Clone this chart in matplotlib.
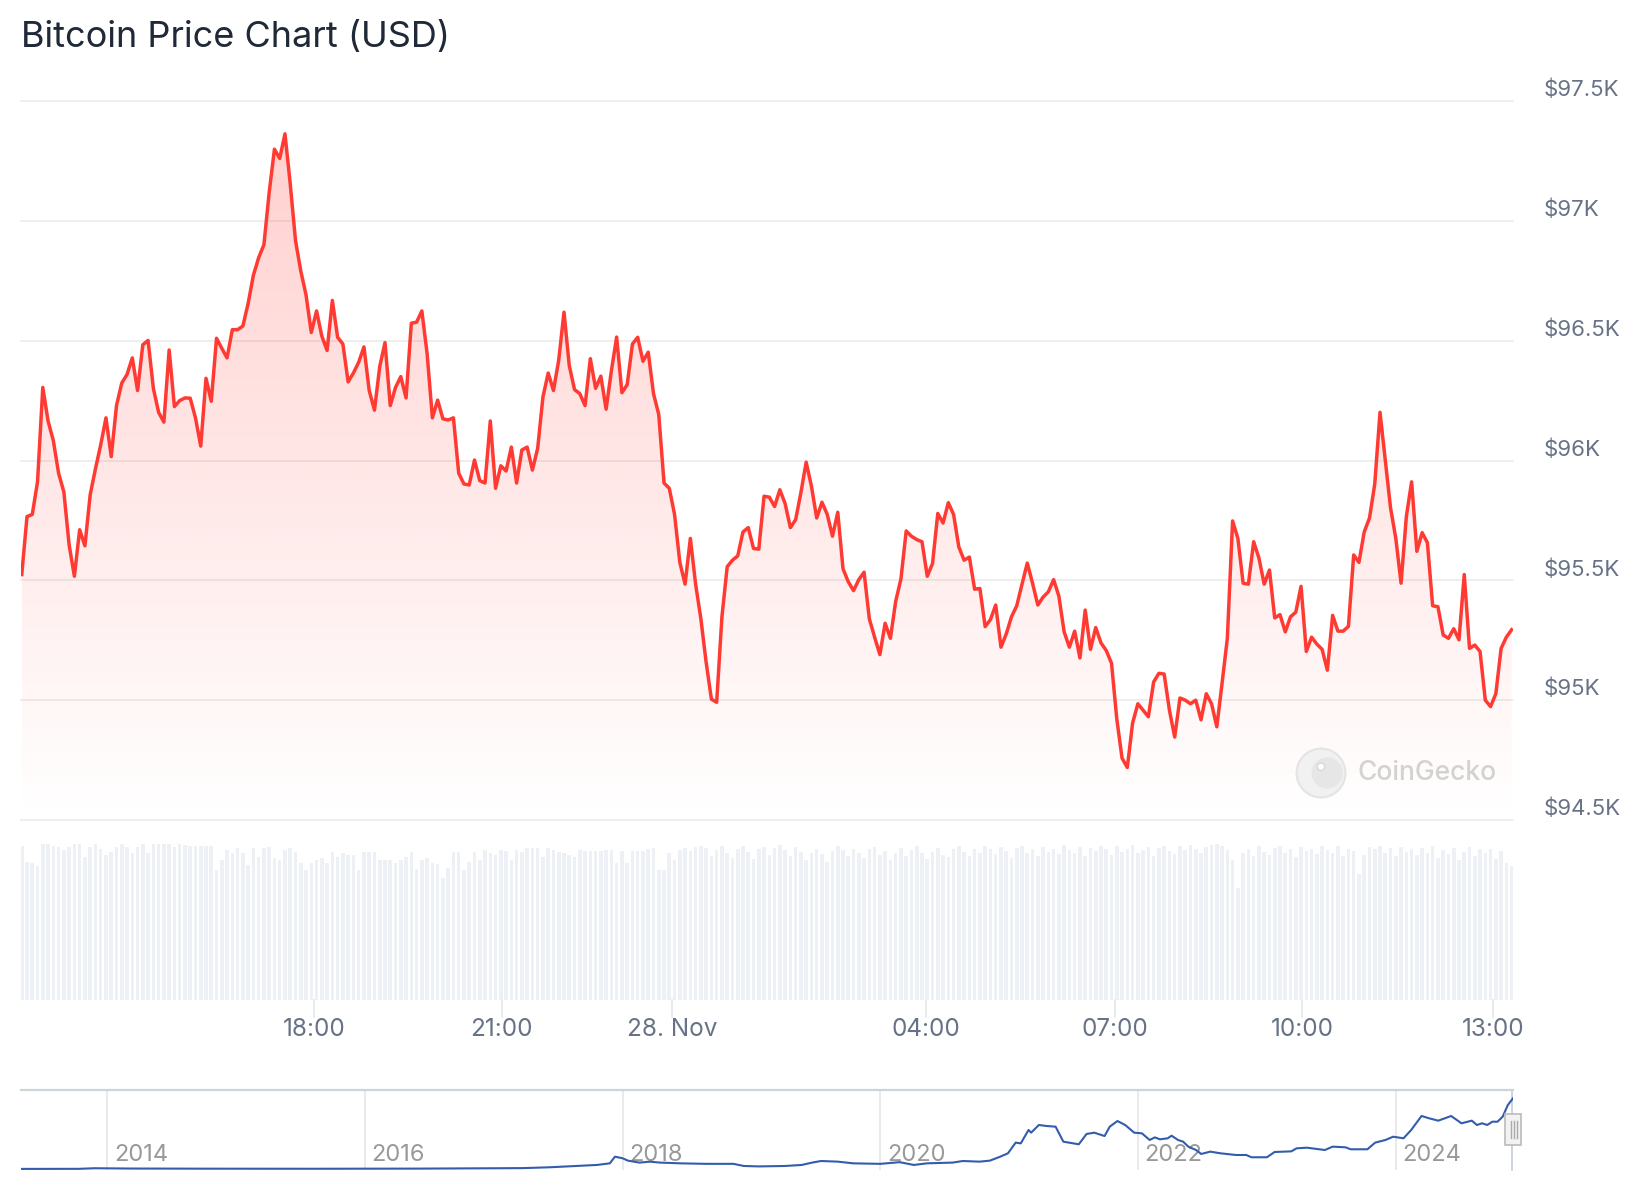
import matplotlib
matplotlib.use("Agg")
import matplotlib.pyplot as plt
import matplotlib.transforms as mtransforms
from matplotlib.patches import Circle, Rectangle
import numpy as np

plt.rcParams['font.family'] = ['Inter', 'DejaVu Sans']

W, H = 1644, 1200

# BTC price every 5 minutes, 27 Nov ~13:20 -> 28 Nov ~13:15 (USD)
prices = [
    95524, 95766, 95775, 95911, 96305, 96165, 96083, 95947, 95869, 95648, 95517, 95711,
    95644, 95857, 95965, 96065, 96178, 96016, 96229, 96323, 96359, 96428, 96292, 96483,
    96501, 96301, 96201, 96160, 96461, 96225, 96250, 96261, 96260, 96178, 96060, 96343,
    96247, 96510, 96468, 96428, 96546, 96546, 96561, 96655, 96773, 96846, 96900,
    97118, 97299, 97260, 97363, 97154, 96918, 96791, 96691, 96534, 96624, 96519, 96459,
    96668, 96514, 96486, 96328, 96365, 96410, 96474, 96292, 96210, 96392, 96492, 96229,
    96305, 96350, 96261, 96573, 96577, 96624, 96446, 96178, 96252, 96174, 96169, 96178,
    95947, 95902, 95898, 96002, 95916, 95906, 96165, 95884, 95978, 95956, 96056,
    95906, 96044, 96056, 95960, 96051, 96265, 96365, 96292, 96419, 96619, 96396, 96296,
    96279, 96229, 96425, 96301, 96352, 96214, 96374, 96515, 96283, 96316, 96486, 96514,
    96414, 96452, 96279, 96192, 95906, 95884, 95775, 95575, 95484, 95675, 95484, 95339,
    95158, 95004, 94991, 95348, 95557, 95584, 95602, 95702, 95720, 95633, 95630, 95851,
    95847, 95808, 95878, 95820, 95720, 95753, 95866, 95993, 95893, 95760, 95826, 95775,
    95684, 95784, 95548, 95494, 95457, 95503, 95534, 95339, 95263, 95190, 95321, 95258,
    95412, 95506, 95706, 95684, 95670, 95661, 95517, 95570, 95779, 95739, 95824, 95775,
    95639, 95584, 95597, 95463, 95466, 95307, 95336, 95397, 95221, 95276, 95348,
    95394, 95484, 95572, 95488, 95397, 95430, 95452, 95503, 95434, 95285, 95221, 95288,
    95176, 95376, 95212, 95303, 95239, 95207, 95154, 94922, 94758, 94719, 94904, 94985,
    94958, 94931, 95076, 95112, 95109, 94958, 94846, 95009, 95000, 94985, 95000, 94918,
    95027, 94985, 94889, 95071, 95258, 95748, 95675, 95488, 95484, 95661, 95593, 95484,
    95543, 95343, 95357, 95285, 95348, 95367, 95475, 95203, 95263, 95234, 95212, 95125,
    95354, 95288, 95288, 95308, 95606, 95575, 95702, 95760, 95902, 96201, 96002, 95802,
    95675, 95488, 95766, 95911, 95621, 95699, 95657, 95394, 95390, 95272, 95258, 95298,
    95252, 95524, 95216, 95230, 95203, 95000, 94973, 95027, 95216, 95263, 95294,
]

# traded volume per 5 minutes, relative (max = 100)
volume = [
    98.7, 88.7, 87.6, 85.9, 100, 100, 98.7, 98.3, 96.2, 98.3, 100, 100, 91.9, 98.3, 100,
    96.6, 92.9, 94.9, 98.3, 100, 98.3, 94.0, 98.3, 100, 94.0, 100, 100, 100, 100, 98.3,
    100, 99.4, 98.7, 98.7, 98.7, 98.7, 98.7, 83.3, 89.7, 96.2, 94.0, 97.2, 94.0, 86.5,
    97.2, 91.9, 97.2, 98.3, 90.8, 89.7, 96.2, 97.2, 95.1, 87.6, 83.3, 88.0, 89.7, 90.8,
    88.0, 94.9, 91.9, 94.4, 92.9, 92.9, 83.3, 94.9, 94.9, 94.9, 89.7, 89.7, 89.7, 88.0,
    89.7, 91.9, 94.9, 83.8, 89.7, 90.8, 87.6, 87.2, 77.9, 84.4, 94.9, 94.9, 83.3, 88.7,
    94.9, 89.7, 96.2, 94.0, 92.9, 96.2, 95.7, 89.7, 96.2, 95.1, 97.2, 97.2, 97.2, 91.9,
    97.2, 96.2, 95.1, 94.0, 92.9, 91.9, 96.2, 95.7, 95.7, 95.7, 95.7, 96.2, 96.2, 87.6,
    95.7, 87.6, 95.7, 95.7, 95.7, 96.6, 97.2, 83.3, 83.3, 94.0, 89.7, 96.2, 97.2,
    95.5, 98.0, 99.0, 97.5, 92.0, 96.0, 98.5, 94.0, 91.0, 97.0, 99.0, 95.0, 90.5, 96.5,
    98.0, 93.0, 97.5, 99.5, 96.0, 92.5, 98.0, 95.0, 90.0, 94.5, 97.0, 93.5, 88.5, 95.5,
    98.5, 96.0, 92.0, 97.0, 94.5, 91.0, 96.5, 98.0, 93.0, 95.5, 89.5, 94.0, 97.5, 92.5,
    96.0, 99.0, 94.5, 90.5, 95.0, 97.5, 93.0, 91.5, 96.5, 98.5, 95.0, 92.0, 97.0, 94.0,
    99.0, 96.5, 93.5, 98.0, 95.5, 91.0, 97.5, 99.0, 94.0, 96.5, 92.5, 98.0, 95.0, 97.0,
    93.5, 99.5, 96.0, 94.5, 98.0, 92.0, 97.5, 95.5, 99.0, 96.5, 93.0, 98.5, 95.0, 97.0,
    99.5, 94.5, 96.0, 98.0, 92.5, 97.5, 99.0, 95.5, 93.5, 98.5, 96.0, 99.5, 97.0, 94.0,
    98.0, 99.5, 100.0, 98.5, 96.0, 90.0, 72.0, 94.5, 97.0, 92.0, 98.5, 95.0, 93.0, 97.5,
    99.0, 94.0, 96.5, 91.5, 98.0, 95.5, 97.0, 93.5, 99.0, 96.0, 94.5, 98.5, 92.0, 97.0,
    95.5, 81.0, 93.0, 98.0, 96.5, 99.0, 94.0, 97.5, 92.5, 98.0, 95.0, 96.5, 93.0, 97.5,
    94.5, 98.5, 91.0, 96.0, 93.5, 97.5, 89.5, 95.0, 98.0, 92.0, 96.5, 94.0, 97.0, 90.5,
    95.5, 88.0, 86.0,
]

price_ticks = [94500, 95000, 95500, 96000, 96500, 97000, 97500]
price_labels = ['$94.5K', '$95K', '$95.5K', '$96K', '$96.5K', '$97K', '$97.5K']

# minutes since first sample
time_tick_minutes = [278, 456, 618, 859, 1038, 1216, 1397]
time_tick_labels = ['18:00', '21:00', '28. Nov', '04:00', '07:00', '10:00', '13:00']

# full history for the navigator (thousand USD)
history_years = [
    2013.32, 2013.78, 2013.90, 2014.18, 2014.79, 2015.60, 2016.42, 2017.03, 2017.23, 2017.43,
    2017.64, 2017.80, 2017.90, 2017.94, 2018.00, 2018.04, 2018.13, 2018.21, 2018.29, 2018.45,
    2018.65, 2018.86, 2018.94, 2019.06, 2019.26, 2019.39, 2019.47, 2019.54, 2019.67, 2019.79,
    2020.00, 2020.15, 2020.26, 2020.36, 2020.56, 2020.64, 2020.77, 2020.85, 2020.93, 2020.99,
    2021.05, 2021.09, 2021.15, 2021.17, 2021.23, 2021.29, 2021.36, 2021.42, 2021.54, 2021.60,
    2021.66, 2021.74, 2021.78, 2021.84, 2021.90, 2021.97, 2022.03, 2022.09, 2022.13, 2022.17,
    2022.23, 2022.26, 2022.31, 2022.35, 2022.39, 2022.45, 2022.49, 2022.56, 2022.64, 2022.76,
    2022.84, 2022.88, 2023.00, 2023.06, 2023.19, 2023.23, 2023.31, 2023.45, 2023.51, 2023.61,
    2023.65, 2023.78, 2023.84, 2023.92, 2023.98, 2024.06, 2024.12, 2024.20, 2024.26, 2024.33,
    2024.43, 2024.51, 2024.59, 2024.63, 2024.67, 2024.71, 2024.75, 2024.79, 2024.83, 2024.87,
    2024.91,
]
history_k = [
    0.1, 0.2, 1.0, 0.6, 0.4, 0.3, 0.5, 1.0, 1.2, 2.3,
    4.1, 5.5, 7.7, 16.8, 14.6, 11.4, 8.7, 10.0, 8.7, 7.7,
    7.0, 7.0, 4.1, 3.5, 4.1, 5.5, 8.7, 10.9, 10.0, 7.7,
    7.0, 9.3, 5.5, 7.7, 8.7, 10.9, 10.0, 11.4, 16.8, 21.4,
    36.0, 35.0, 53.3, 49.6, 60.1, 58.7, 57.8, 37.3, 33.7, 47.8,
    49.6, 45.0, 57.8, 65.5, 60.1, 49.6, 48.7, 39.6, 43.2, 40.5,
    41.9, 45.5, 39.6, 37.3, 30.5, 25.9, 20.5, 23.7, 21.4, 19.1,
    19.1, 16.0, 16.0, 23.2, 24.1, 28.2, 29.1, 25.9, 30.5, 29.6,
    26.9, 26.9, 36.0, 39.6, 44.1, 41.9, 53.3, 72.4, 69.2, 66.0,
    72.4, 62.4, 66.0, 60.1, 62.4, 60.1, 64.6, 64.6, 71.5, 87.4,
    96.6,
]
year_ticks = [2014, 2016, 2018, 2020, 2022, 2024]

STEP_MIN = 5
RED = '#ff3a33'
GRID = '#ebebeb'
LABEL = '#677286'


def px_axes(fig, left, top, right, bottom):
    return fig.add_axes([left / W, 1 - bottom / H, (right - left) / W, (bottom - top) / H])


fig = plt.figure(figsize=(W / 100, H / 100), dpi=100)
fig.patch.set_facecolor('white')

t = np.arange(len(prices)) * STEP_MIN
xlim = (-0.7, t[-1] + 1.3)

# price pane
ax = px_axes(fig, 21, 101, 1513, 820)
ax.set_xlim(*xlim)
ax.set_ylim(price_ticks[0], price_ticks[-1])
ax.axis('off')
for v in price_ticks:
    ax.axhline(v, color=GRID, lw=1.2, zorder=0, clip_on=False)

poly = ax.fill_between(t, prices, price_ticks[0], color='none', lw=0)
grad = np.zeros((256, 1, 4))
grad[..., 0], grad[..., 1], grad[..., 2] = 1.0, 0.23, 0.2
grad[:, 0, 3] = np.linspace(0.0, 0.25, 256)
im = ax.imshow(grad, extent=[t[0], t[-1], price_ticks[0], price_ticks[-1]],
               aspect='auto', origin='lower', zorder=1, interpolation='bilinear')
im.set_clip_path(poly.get_paths()[0], ax.transData)
ax.plot(t, prices, color=RED, lw=2.5, solid_joinstyle='round', zorder=3)

lab_tr = mtransforms.offset_copy(ax.get_yaxis_transform(), fig=fig, x=0, y=11, units='dots')
for v, s in zip(price_ticks, price_labels):
    ax.text(1.0208, v, s, transform=lab_tr, ha='left', va='center',
            fontsize=16, color=LABEL, clip_on=False)

# watermark
logo = px_axes(fig, 1295, 747, 1347, 799)
logo.axis('off')
logo.set_xlim(0, 1)
logo.set_ylim(0, 1)
logo.add_patch(Circle((0.5, 0.5), 0.47, facecolor='#f1f1f1', edgecolor='#e4e4e4', lw=1.5))
logo.add_patch(Circle((0.62, 0.5), 0.3, facecolor='#e6e6e6', edgecolor='none'))
logo.add_patch(Circle((0.5, 0.62), 0.07, facecolor='#ffffff', edgecolor='#d8d8d8', lw=1))
fig.text(1357 / W, 1 - 773 / H, 'CoinGecko', fontsize=19, color='#d2d2d2',
         ha='left', va='center', fontweight='medium')

# volume pane
vax = px_axes(fig, 21, 830, 1513, 1000)
n = min(len(t), len(volume))
vax.bar(t[:n], volume[:n], width=3.4, color='#edf1f5', lw=0, zorder=2)
vax.set_xlim(*xlim)
vmax = 100 * 170 / 156
vax.set_ylim(0, vmax)
vax.axis('off')
tick_len = 17 * vmax / 170
for tm, s in zip(time_tick_minutes, time_tick_labels):
    vax.plot([tm, tm], [0, -tick_len], color='#e3e7eb', lw=1.2, clip_on=False)
    vax.text(tm, -0.172, s, transform=vax.get_xaxis_transform(), ha='center', va='center',
             fontsize=17.5, color=LABEL)

# navigator
nav = px_axes(fig, 21, 1090, 1513, 1170)
nav.set_xlim(2013.33, 2024.91)
nav.set_ylim(-1.4, 107.9)
nav.axis('off')
for yr in year_ticks:
    nav.axvline(yr, color='#e6e6e6', lw=1.2, zorder=0)
    nav.text(yr + 0.05, 0.19, str(yr), transform=nav.get_xaxis_transform(),
             ha='left', va='center', fontsize=17, color='#999999')
nav.plot(history_years, history_k, color='#335cad', lw=1.5, zorder=3)
nav.plot([2013.33, 2024.91], [107.9, 107.9], color='#cdd3da', lw=1.6, clip_on=False)
nav.plot([2024.9, 2024.9], [-1.4, 107.9], color='#cdd3da', lw=1.4, clip_on=False)

fig.add_artist(Rectangle((1505 / W, 1 - 1145 / H), 16 / W, 31 / H, transform=fig.transFigure,
                         facecolor='#f2f2f2', edgecolor='#bbbbbb', lw=1.2))
for hx in (1510.5, 1513.5, 1516.5):
    fig.add_artist(plt.Line2D([hx / W, hx / W], [1 - 1138 / H, 1 - 1121 / H],
                              transform=fig.transFigure, color='#aaaaaa', lw=1))

fig.text(21 / W, 1 - 37 / H, 'Bitcoin Price Chart (USD)', fontsize=26, color='#1f2937',
         ha='left', va='center')

fig.savefig('out.png', dpi=100, facecolor='white')
